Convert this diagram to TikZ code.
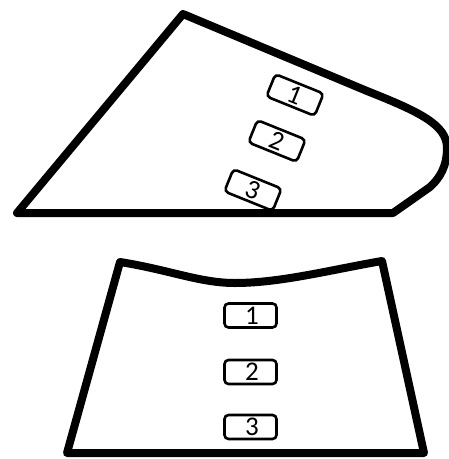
\documentclass[tikz,border=0pt]{standalone}
\usepackage{fontspec}
\setmainfont{Carlito}
\begin{document}
\begin{tikzpicture}[x=1pt,y=-1pt,
  outline/.style={line width=8pt,line join=round,line cap=round},
  tag/.style={draw,line width=2.6pt,rounded corners=4pt,minimum width=52pt,minimum height=24pt,inner sep=0pt,font=\fontsize{27}{27}\selectfont,text height=17pt,text depth=0pt}]
\useasboundingbox (0,0) rectangle (449,459);
% top panel labels
\node[tag,rotate=-22] (t1) at (295,95) {1};
\node[tag,rotate=-22] (t2) at (277,141) {2};
\node[tag,rotate=-22] (t3) at (253,190) {3};
% top panel outline
\draw[outline] (183,14) -- (367,91) .. controls (420,112) and (447,125) .. (447,148)
  .. controls (447,166) and (440,178) .. (430,187) -- (393,213) -- (17,213) -- cycle;
% bottom panel labels
\node[tag] (b1) at (250.5,315.5) {\hspace{3pt}1};
\node[tag] (b2) at (250.5,372) {\hspace{3pt}2};
\node[tag] (b3) at (250.5,427) {\hspace{3pt}3};
% bottom panel outline
\draw[outline] (120,262) .. controls (170,270) and (200,283) .. (235,283)
  .. controls (280,283) and (330,270) .. (382,261) -- (424,453) -- (67,453) -- cycle;
\end{tikzpicture}
\end{document}
